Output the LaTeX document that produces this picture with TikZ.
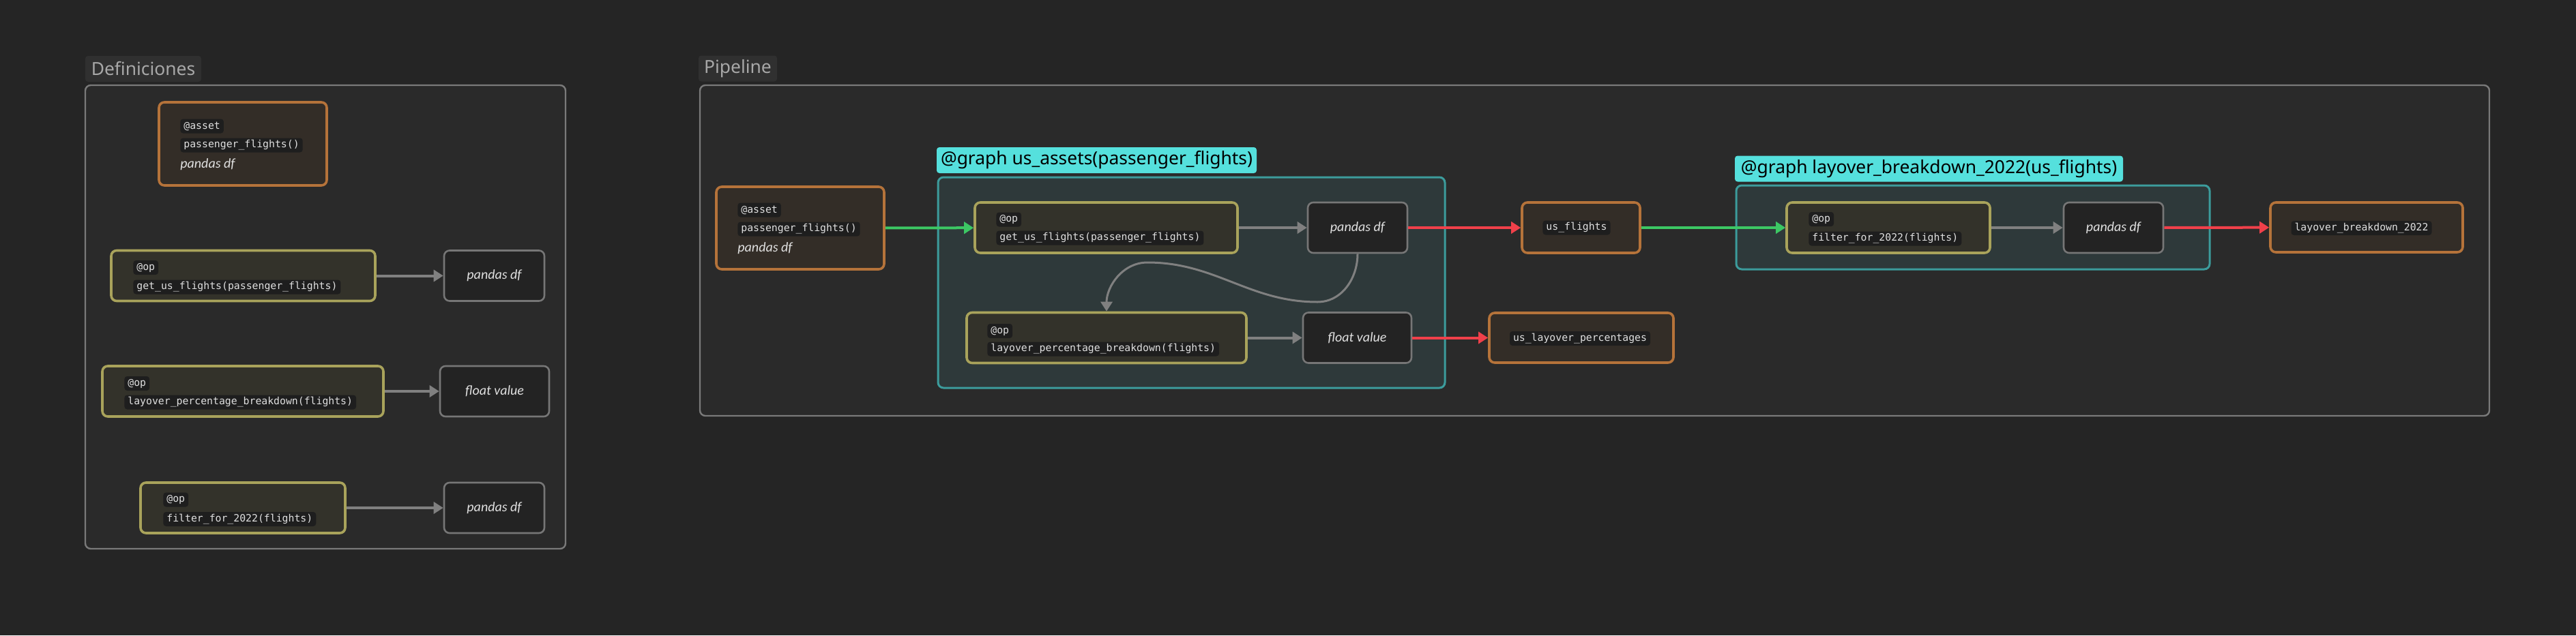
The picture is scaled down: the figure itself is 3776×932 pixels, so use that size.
\documentclass[tikz,border=0pt]{standalone}
\usepackage{fontspec}
\setmainfont{Noto Sans}
\setmonofont{DejaVu Sans Mono}
\newfontfamily\typefont{Carlito}
\usetikzlibrary{arrows.meta}

\definecolor{bgdark}{HTML}{252525}
\definecolor{framefill}{HTML}{2A2A2A}
\definecolor{frameline}{HTML}{7A7A7A}
\definecolor{labelfill}{HTML}{303030}
\definecolor{labeltext}{HTML}{A8A8A8}
\definecolor{assetline}{HTML}{B5733A}
\definecolor{assetfill}{HTML}{332D27}
\definecolor{opline}{HTML}{A9A35B}
\definecolor{opfill}{HTML}{33322A}
\definecolor{typeline}{HTML}{767676}
\definecolor{typefill}{HTML}{232323}
\definecolor{chipfill}{HTML}{1E1E1E}
\definecolor{chiptext}{HTML}{E0E0E0}
\definecolor{graphline}{HTML}{3C9C9C}
\definecolor{graphfill}{HTML}{2E393A}
\definecolor{graphcyan}{HTML}{55E0DD}
\definecolor{flowgray}{HTML}{808080}
\definecolor{flowgreen}{HTML}{3CC864}
\definecolor{flowred}{HTML}{F0404A}

\tikzset{
  box/.style={rounded corners=4pt, line width=1.8pt, inner sep=0pt},
  assetbox/.style={box, draw=assetline, fill=assetfill},
  opbox/.style={box, draw=opline, fill=opfill, minimum height=37pt},
  typebox/.style={box, draw=typeline, fill=typefill, line width=1.3pt,
    minimum height=37pt, text=chiptext, font=\typefont\itshape\fontsize{10}{12}\selectfont},
  chip/.style={fill=chipfill, rounded corners=2pt, text=chiptext, inner xsep=2.5pt,
    inner ysep=0pt, minimum height=10.5pt, font=\ttfamily\fontsize{7.4}{8}\selectfont},
  italic/.style={inner sep=0pt, text=chiptext, font=\typefont\itshape\fontsize{10}{12}\selectfont},
  frame/.style={draw=frameline, fill=framefill, line width=1.2pt, rounded corners=4pt},
  framelabel/.style={fill=labelfill, text=labeltext, rounded corners=2pt, inner sep=0pt,
    minimum height=19pt, font=\fontsize{13.2}{15}\selectfont},
  graphframe/.style={draw=graphline, fill=graphfill, line width=1.5pt, rounded corners=4pt},
  graphlabel/.style={fill=graphcyan, text=black, rounded corners=2pt, inner sep=0pt,
    minimum height=19pt, font=\fontsize{13.2}{15}\selectfont},
  flow/.style={-{Triangle[length=7pt,width=8.5pt]}, line width=2pt},
}

\begin{document}
\begin{tikzpicture}[x=0.5pt,y=-0.5pt]
\useasboundingbox[fill=bgdark] (0,0) rectangle (3776,932);

% Definiciones
\node[framelabel, minimum width=85pt] (defLabel) at (210,101) {Definiciones};
\draw[frame] (125,125) rectangle (829,805);

\node[assetbox, minimum width=123pt, minimum height=61pt] (defAsset) at (356,211) {};
\node[chip, anchor=west] (defAssetTag) at (264,185) {@asset};
\node[chip, anchor=west] (defAssetName) at (264,213) {passenger\_flights()};
\node[italic, anchor=west] (defAssetType) at (264,241) {pandas df};

\node[opbox, minimum width=193.5pt] (defOpA) at (356.5,404.5) {};
\node[chip, anchor=west] (defOpATag) at (195,392.5) {@op};
\node[chip, anchor=west] (defOpAName) at (195,421) {get\_us\_flights(passenger\_flights)};
\node[typebox, minimum width=73.5pt] (defTypeA) at (724.5,404.5) {pandas df};

\node[opbox, minimum width=206pt] (defOpB) at (356,574) {};
\node[chip, anchor=west] (defOpBTag) at (182,562.5) {@op};
\node[chip, anchor=west] (defOpBName) at (182,590) {layover\_percentage\_breakdown(flights)};
\node[typebox, minimum width=80pt] (defTypeB) at (725,574) {float value};

\node[opbox, minimum width=150pt] (defOpC) at (356,745) {};
\node[chip, anchor=west] (defOpCTag) at (239,733) {@op};
\node[chip, anchor=west] (defOpCName) at (239,761.5) {filter\_for\_2022(flights)};
\node[typebox, minimum width=73.5pt] (defTypeC) at (724.5,745) {pandas df};

\draw[flow, flowgray] (defOpA) -- (defTypeA);
\draw[flow, flowgray] (defOpB) -- (defTypeB);
\draw[flow, flowgray] (defOpC) -- (defTypeC);

% Pipeline
\node[framelabel, minimum width=57.5pt] (pipeLabel) at (1081.5,100.5) {Pipeline};
\draw[frame] (1026,125) rectangle (3649,610);

\node[assetbox, minimum width=123pt, minimum height=60.5pt] (asset) at (1173,334.5) {};
\node[chip, anchor=west] (assetTag) at (1081,308) {@asset};
\node[chip, anchor=west] (assetName) at (1081,336) {passenger\_flights()};
\node[italic, anchor=west] (assetType) at (1081,364) {pandas df};

% grafo us_assets
\node[graphlabel, minimum width=234.5pt] (usLabel) at (1607.5,235) {@graph us\_assets(passenger\_flights)};
\draw[graphframe] (1375,260) rectangle (2118,569);

\node[opbox, minimum width=192.5pt] (opFlights) at (1621.5,334) {};
\node[chip, anchor=west] (opFlightsTag) at (1460,322) {@op};
\node[chip, anchor=west] (opFlightsName) at (1460,349) {get\_us\_flights(passenger\_flights)};
\node[typebox, minimum width=73pt] (typeFlights) at (1990,334) {pandas df};

\node[opbox, minimum width=205pt] (opLayover) at (1622,495.5) {};
\node[chip, anchor=west] (opLayoverTag) at (1447,485.5) {@op};
\node[chip, anchor=west] (opLayoverName) at (1447,512) {layover\_percentage\_breakdown(flights)};
\node[typebox, minimum width=79.5pt] (typeLayover) at (1989.5,495.5) {float value};

\coordinate (bendLow) at (1931,443);
\coordinate (bendHigh) at (1682,385);

% salidas
\node[assetbox, minimum width=86.5pt, minimum height=37pt] (usFlights) at (2317.5,334) {};
\node[chip] (usFlightsName) at (2311,334) {us\_flights};
\node[assetbox, minimum width=135pt, minimum height=36.5pt] (usLayover) at (2318,495.5) {};
\node[chip] (usLayoverName) at (2316,496.5) {us\_layover\_percentages};

% grafo layover_breakdown_2022
\node[graphlabel, minimum width=284.5pt] (lbLabel) at (2827.5,247.5) {@graph layover\_breakdown\_2022(us\_flights)};
\draw[graphframe] (2545,272) rectangle (3239,395);

\node[opbox, minimum width=149pt] (opFilter) at (2768,334) {};
\node[chip, anchor=west] (opFilterTag) at (2651,321.5) {@op};
\node[chip, anchor=west] (opFilterName) at (2651,350) {filter\_for\_2022(flights)};
\node[typebox, minimum width=73pt] (typeFilter) at (3098,334) {pandas df};

\node[assetbox, minimum width=141pt, minimum height=36.5pt] (lbOut) at (3469,333.5) {};
\node[chip] (lbOutName) at (3461.5,334.5) {layover\_breakdown\_2022};

% conexiones
\draw[flow, flowgreen] (asset) -- (opFlights);
\draw[flow, flowgray] (opFlights) -- (typeFlights);
\draw[flow, flowgray, line width=1.5pt] (typeFlights.south) to[out=-90,in=0] (bendLow)
  to[out=180,in=0] (bendHigh) to[out=180,in=90] (opLayover.north);
\draw[flow, flowgray] (opLayover) -- (typeLayover);
\draw[flow, flowred] (typeFlights) -- (usFlights);
\draw[flow, flowred] (typeLayover) -- (usLayover);
\draw[flow, flowgreen] (usFlights) -- (opFilter);
\draw[flow, flowgray] (opFilter) -- (typeFilter);
\draw[flow, flowred] (typeFilter) -- (lbOut);

\end{tikzpicture}
\end{document}
